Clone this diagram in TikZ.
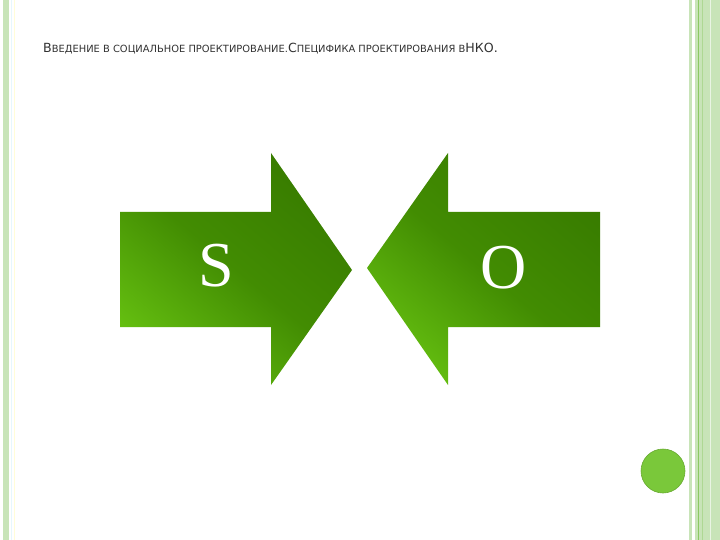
\documentclass[tikz,border=0pt]{standalone}
\usepackage{fontspec}
\setmainfont{Liberation Serif}
\newfontfamily\titlefont{DejaVu Sans}
\usepackage{tikz}
\usetikzlibrary{positioning}
\definecolor{arrowdark}{RGB}{56,124,0}
\definecolor{arrowmid}{RGB}{66,140,2}
\definecolor{arrowlight}{RGB}{100,190,16}
\definecolor{stripe}{RGB}{200,228,184}
\definecolor{stripedark}{RGB}{140,200,100}
\definecolor{dotgreen}{RGB}{122,200,58}
\definecolor{titlegrey}{RGB}{50,50,50}
\tikzstyle{bigarrow} = [shading=axis, top color=arrowdark, bottom color=arrowlight, middle color=arrowmid, shading angle=-40]
\tikzstyle{letter} = [text=white, font=\fontsize{64}{64}\selectfont, inner sep=0pt]
\tikzstyle{stripebar} = [fill=stripe, draw=none]
\def\bigc#1{{\fontsize{12.6}{14}\selectfont #1}}
\def\smc#1{{\fontsize{9.9}{12}\selectfont #1}}

\begin{document}
\begin{tikzpicture}[x=1pt, y=-1pt]
\useasboundingbox [fill=white] (0,0) rectangle (720,540);

% borders
\fill [stripebar] (3,0) rectangle (9,540);
\draw [cyan!10, line width=1pt] (11.5,0) -- (11.5,540);
\draw [yellow!15, line width=1pt] (14.5,0) -- (14.5,540);
\fill [stripebar] (689,0) rectangle (691.5,540);
\fill [stripebar] (695,0) rectangle (720,540);
\draw [stripedark, line width=1pt] (698.5,0) -- (698.5,540);
\draw [stripedark!70, line width=0.8pt] (702.5,0) -- (702.5,540);
\draw [white!60!stripe, line width=1pt] (710,0) -- (710,540);

\node (dot) [circle, minimum size=44pt, inner sep=0pt, fill=dotgreen, draw=dotgreen!85!black, line width=0.6pt] at (663,471) {};

% title
\node (title) [anchor=base west, inner sep=0pt, text=titlegrey, font=\titlefont] at (43,53)
  {\bigc{В}\smc{ВЕДЕНИЕ В СОЦИАЛЬНОЕ ПРОЕКТИРОВАНИЕ.}\bigc{С}\smc{ПЕЦИФИКА ПРОЕКТИРОВАНИЯ В}\bigc{НКО.}};

% arrows
\path [bigarrow] (120,212) -- (271,212) -- (271,153) -- (352,270) -- (271,385) -- (271,327) -- (120,327) -- cycle;
\path [bigarrow] (600,212) -- (448,212) -- (448,153) -- (367,268) -- (448,385) -- (448,327) -- (600,327) -- cycle;

\node (subj) [letter] at (216,266) {S};
\node (obj) [letter] at (504,268) {O};

\end{tikzpicture}
\end{document}
